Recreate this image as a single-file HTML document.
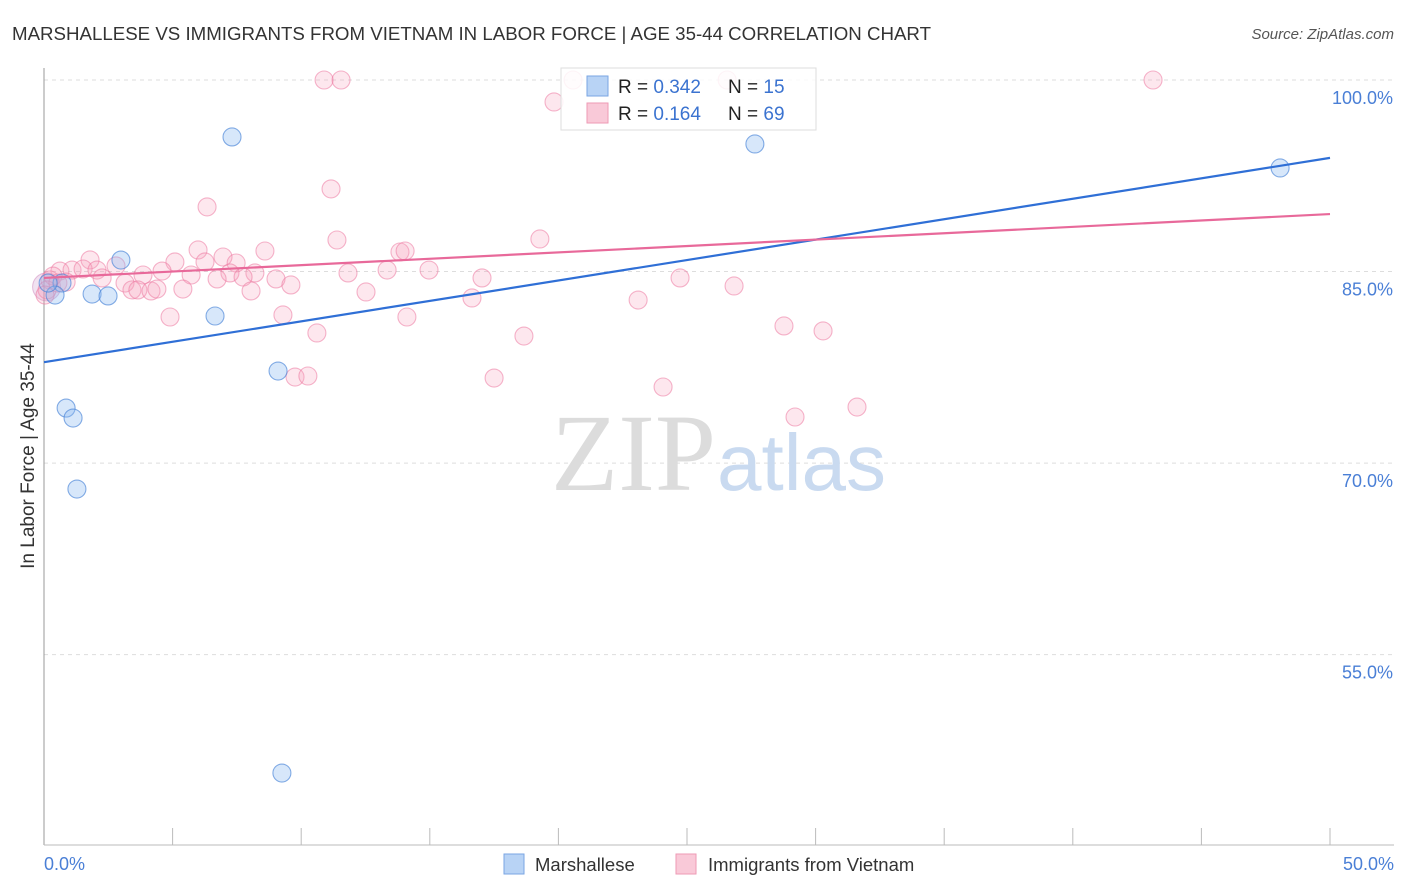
<!DOCTYPE html>
<html><head><meta charset="utf-8"><style>
body{margin:0;background:#fff;font-family:"Liberation Sans",sans-serif;}
svg{display:block}
</style></head><body>
<svg width="1406" height="892">
<text x="12" y="40" font-size="18.7" fill="#333">MARSHALLESE VS IMMIGRANTS FROM VIETNAM IN LABOR FORCE | AGE 35-44 CORRELATION CHART</text>
<text x="1394" y="39" font-size="15" fill="#555" font-style="italic" text-anchor="end">Source: ZipAtlas.com</text>
<g id="grid"></g>
<text x="716" y="490" font-size="110" fill="#dcdcdc" text-anchor="end" font-family="Liberation Serif">ZIP</text>
<text x="717" y="490" font-size="80" fill="#c9daf0">atlas</text>
<line x1="44" y1="68" x2="44" y2="845" stroke="#999"/>
<line x1="44" y1="845" x2="1394" y2="845" stroke="#bbb"/>
<text transform="translate(34,456) rotate(-90)" font-size="19" fill="#333" text-anchor="middle">In Labor Force | Age 35-44</text>
<text x="44" y="870" font-size="18" fill="#4a7fd6">0.0%</text>
<text x="1394" y="870" font-size="18" fill="#4a7fd6" text-anchor="end">50.0%</text>
<g id="points"></g>
<g id="lines"></g>
<g>
<rect x="561" y="68" width="255" height="62" fill="#fff" fill-opacity="0.85" stroke="#ddd"/>
<rect x="587" y="76" width="21" height="20" fill="#b8d3f5" stroke="#7aa6e3"/>
<rect x="587" y="103" width="21" height="20" fill="#f9c9d8" stroke="#ee9ab5"/>
<text x="618" y="93" font-size="19" fill="#222">R = <tspan fill="#3b73d0">0.342</tspan></text>
<text x="728" y="93" font-size="19" fill="#222">N = <tspan fill="#3b73d0"> 15</tspan></text>
<text x="618" y="120" font-size="19" fill="#222">R = <tspan fill="#3b73d0"> 0.164</tspan></text>
<text x="728" y="120" font-size="19" fill="#222">N = <tspan fill="#3b73d0">69</tspan></text>
</g>
<g>
<rect x="504" y="854" width="20" height="20" fill="#b8d3f5" stroke="#7aa6e3"/>
<text x="535" y="871" font-size="18.5" fill="#333">Marshallese</text>
<rect x="676" y="854" width="20" height="20" fill="#f9c9d8" stroke="#ee9ab5"/>
<text x="708" y="871" font-size="18.5" fill="#333">Immigrants from Vietnam</text>
</g>
</svg>
<script>
const yTicks=[100,85,70,55];
const yTickLabels=["100.0%","85.0%","70.0%","55.0%"];
const xTicks=[0,5,10,15,20,25,30,35,40,45,50];
const blueX=[7.31,27.64,48.06,2.99,0.70,0.43,1.87,2.49,6.65,9.10,0.86,1.13,1.28,9.25,0.16];
const blueY=[95.54,94.99,93.11,85.90,84.10,83.16,83.24,83.09,81.52,77.21,74.31,73.53,67.97,45.73,84.1];
const pinkX=[10.89,11.55,20.57,26.56,43.12,19.83,6.34,11.16,19.28,11.39,8.59,5.99,13.84,14.04,1.79,2.80,5.09,6.26,6.96,7.47,0.62,1.09,1.52,2.06,4.59,5.72,3.85,7.23,8.20,11.82,13.34,14.97,2.26,3.15,6.73,7.74,9.02,9.60,17.03,24.73,26.83,0.23,0.35,3.42,3.65,4.16,4.39,5.40,8.05,12.52,16.64,23.10,4.90,9.29,14.11,10.61,18.66,28.77,30.29,9.76,10.26,17.50,24.07,29.20,31.61,0.12,0.04,0.54,0.86];
const pinkY=[100,100,100,100,100,98.28,90.06,91.47,87.55,87.47,86.61,86.69,86.53,86.61,85.91,85.44,85.75,85.75,86.14,85.67,85.04,85.12,85.20,85.12,85.04,84.73,84.73,84.89,84.89,84.89,85.12,85.12,84.50,84.10,84.42,84.57,84.42,83.95,84.50,84.50,83.87,84.34,84.65,83.56,83.56,83.48,83.63,83.63,83.48,83.40,82.93,82.77,81.44,81.60,81.44,80.19,79.95,80.74,80.35,76.74,76.82,76.66,75.96,73.61,74.39,83.56,83.16,84.10,84.18];
const blueTrend=[77.9,93.9];
const pinkTrend=[84.5,89.5];
const NS="http://www.w3.org/2000/svg";
function sx(p){return 44+p*25.72;}
function sy(v){return 80+(100-v)*12.77;}
function mk(t,a,parent){const e=document.createElementNS(NS,t);for(const k in a)e.setAttribute(k,a[k]);parent.appendChild(e);return e;}
const grid=document.getElementById('grid');
yTicks.forEach((v,i)=>{
  const l=mk('line',{x1:44,x2:1394,y1:sy(v),y2:sy(v),stroke:'#ddd','stroke-dasharray':'4,4'},grid);
  
  
  const t=mk('text',{x:1393,y:sy(v)+24,'font-size':18,fill:'#4a7fd6','text-anchor':'end'},grid);
  t.textContent=yTickLabels[i];
  
  
});
xTicks.forEach(p=>{
  const l=mk('line',{x1:sx(p),x2:sx(p),y1:828,y2:845,stroke:'#bbb'},grid);
  
  
});
const pts=document.getElementById('points');
const big=mk('circle',{cx:sx(0.1),cy:sy(83.8),r:14,fill:'rgba(200,140,200,0.25)',stroke:'rgba(200,120,180,0.45)'},pts);


pinkX.forEach((x,i)=>{
  const c=mk('circle',{cx:sx(x),cy:sy(pinkY[i]),r:9,fill:'rgba(246,160,188,0.25)',stroke:'rgba(236,120,160,0.55)','stroke-width':1.1},pts);
  
  
});
blueX.forEach((x,i)=>{
  const c=mk('circle',{cx:sx(x),cy:sy(blueY[i]),r:9,fill:'rgba(140,185,240,0.35)',stroke:'rgba(70,130,215,0.65)','stroke-width':1.1},pts);
  
  
});
const lines=document.getElementById('lines');
const bl=mk('line',{x1:sx(0),y1:sy(blueTrend[0]),x2:sx(50),y2:sy(blueTrend[1]),stroke:'#2f6fd6','stroke-width':2.2},lines);


const pl=mk('line',{x1:sx(0),y1:sy(pinkTrend[0]),x2:sx(50),y2:sy(pinkTrend[1]),stroke:'#e8699a','stroke-width':2.2},lines);


</script>
</body></html>
